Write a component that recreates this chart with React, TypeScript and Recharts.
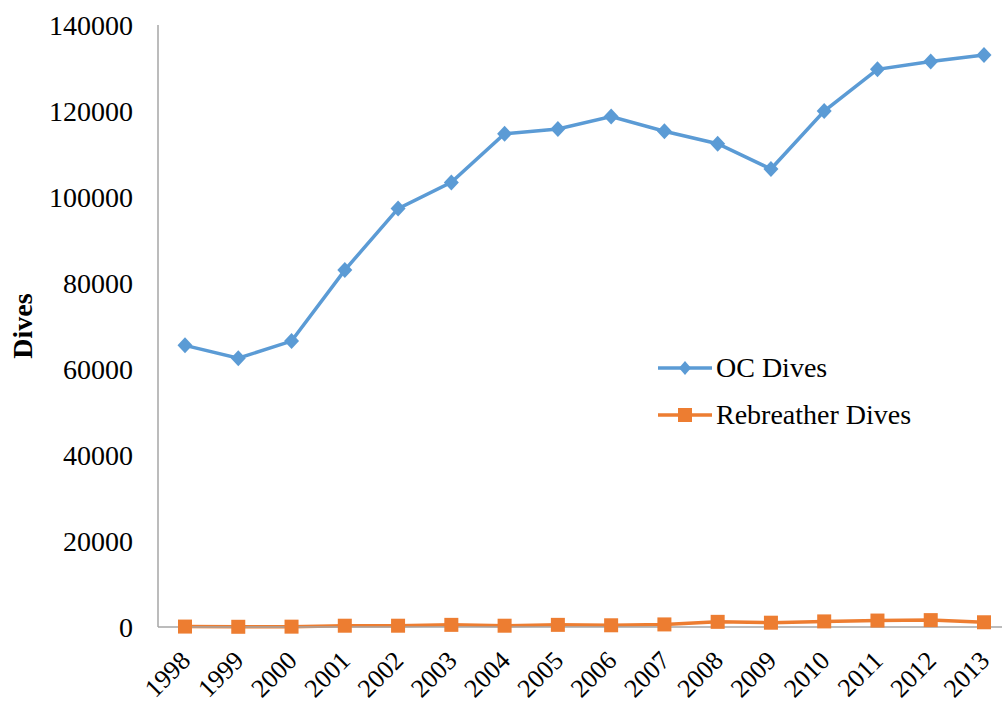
import { Line, LineChart, XAxis, YAxis } from 'recharts'

const years = ['1998', '1999', '2000', '2001', '2002', '2003', '2004', '2005', '2006', '2007', '2008', '2009', '2010', '2011', '2012', '2013']
const ocDives = [65500, 62500, 66500, 83000, 97300, 103400, 114700, 115800, 118700, 115300, 112400, 106500, 120000, 129700, 131500, 133000]
const rebreatherDives = [100, 50, 80, 300, 300, 500, 300, 500, 400, 600, 1200, 1000, 1300, 1500, 1600, 1100]
const yTicks = [0, 20000, 40000, 60000, 80000, 100000, 120000, 140000]

const BLUE = '#5B9BD5'
const ORANGE = '#ED7D31'
const FONT = '"Liberation Serif", "Times New Roman", serif'

const data = years.map((year, i) => ({
  year,
  oc: ocDives[i],
  rebreather: rebreatherDives[i],
}))

function Diamond({ cx, cy }: { cx?: number; cy?: number }) {
  if (cx == null || cy == null) return null
  return <polygon points={`${cx},${cy - 8} ${cx + 7.5},${cy} ${cx},${cy + 8} ${cx - 7.5},${cy}`} fill={BLUE} />
}

function Square({ cx, cy }: { cx?: number; cy?: number }) {
  if (cx == null || cy == null) return null
  return <rect x={cx - 7} y={cy - 7} width={14} height={14} fill={ORANGE} />
}

function YearTick({ x, y, payload }: { x?: number; y?: number; payload?: { value: string } }) {
  return (
    <text
      transform={`translate(${(x ?? 0) + 7},${(y ?? 0) + 27}) rotate(-45)`}
      textAnchor="end"
      fontSize={26}
      fontFamily={FONT}
      fill="#000"
    >
      {payload?.value}
    </text>
  )
}

function DivesLabel({ viewBox }: { viewBox?: { x: number; y: number; width: number; height: number } }) {
  if (!viewBox) return null
  const cx = viewBox.x + 22
  const cy = viewBox.y + viewBox.height / 2
  return (
    <text
      x={cx}
      y={cy}
      transform={`rotate(-90 ${cx} ${cy})`}
      textAnchor="middle"
      dominantBaseline="central"
      fontSize={28}
      fontWeight="bold"
      fontFamily={FONT}
      fill="#000"
    >
      Dives
    </text>
  )
}

const legendItems = [
  { name: 'OC Dives', color: BLUE, marker: 'diamond' },
  { name: 'Rebreather Dives', color: ORANGE, marker: 'square' },
]

function ChartLegend() {
  return (
    <div style={{ position: 'absolute', left: 658, top: 344, fontFamily: FONT, fontSize: 28, color: '#000' }}>
      {legendItems.map((item) => (
        <div key={item.name} style={{ display: 'flex', alignItems: 'center', height: 47 }}>
          <svg width={54} height={20}>
            <line x1={0} y1={10} x2={54} y2={10} stroke={item.color} strokeWidth={3.5} />
            {item.marker === 'diamond' ? (
              <polygon points="27,3 33,10 27,17 21,10" fill={item.color} />
            ) : (
              <rect x={20} y={3} width={14} height={14} fill={item.color} />
            )}
          </svg>
          <span style={{ marginLeft: 4, whiteSpace: 'nowrap' }}>{item.name}</span>
        </div>
      ))}
    </div>
  )
}

export default function App() {
  return (
    <div style={{ position: 'absolute', left: 0, top: 0, width: 1002, height: 702, background: '#fff', overflow: 'hidden' }}>
      <LineChart width={1002} height={702} data={data} margin={{ top: 25, right: 0, bottom: 0, left: 0 }}>
        <XAxis
          dataKey="year"
          interval={0}
          tickLine={false}
          axisLine={{ stroke: '#A6A6A6', strokeWidth: 1.5 }}
          padding={{ left: 27, right: 18 }}
          height={75}
          tick={<YearTick />}
        />
        <YAxis
          domain={[0, 140000]}
          ticks={yTicks}
          interval={0}
          width={158}
          tickLine={false}
          tickSize={0}
          tickMargin={25}
          axisLine={{ stroke: '#A6A6A6', strokeWidth: 1.5 }}
          tick={{ fontSize: 28, fontFamily: FONT, fill: '#000' }}
          label={<DivesLabel />}
        />
        <Line
          type="linear"
          dataKey="oc"
          name="OC Dives"
          stroke={BLUE}
          strokeWidth={3.5}
          dot={<Diamond />}
          activeDot={false}
          isAnimationActive={false}
        />
        <Line
          type="linear"
          dataKey="rebreather"
          name="Rebreather Dives"
          stroke={ORANGE}
          strokeWidth={3.5}
          dot={<Square />}
          activeDot={false}
          isAnimationActive={false}
        />
      </LineChart>
      <ChartLegend />
    </div>
  )
}
